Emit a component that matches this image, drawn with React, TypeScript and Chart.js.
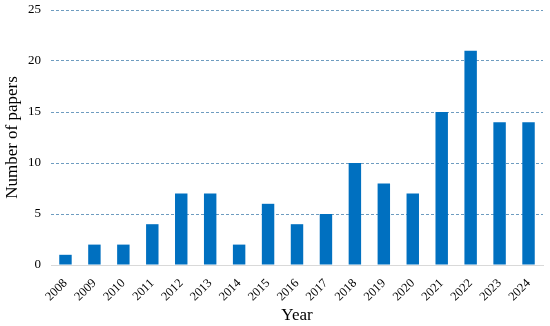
import React, { useEffect, useRef } from "react";
import { Chart, registerables } from "chart.js";

Chart.register(...registerables);

const years = ["2008","2009","2010","2011","2012","2013","2014","2015","2016","2017","2018","2019","2020","2021","2022","2023","2024"];
const papers = [1, 2, 2, 4, 7, 7, 2, 6, 4, 5, 10, 8, 7, 15, 21, 14, 14];

const FONT = "'Liberation Serif', 'Times New Roman', serif";

export default function App() {
  const ref = useRef<HTMLCanvasElement>(null);
  useEffect(() => {
    if (!ref.current) return;
    const chart = new Chart(ref.current, {
      type: "bar",
      data: {
        labels: years,
        datasets: [
          {
            data: papers,
            backgroundColor: "#0070C0",
            categoryPercentage: 1,
            barPercentage: 0.43,
          },
        ],
      },
      options: {
        animation: false,
        responsive: false,
        maintainAspectRatio: false,
        layout: { padding: { top: 10, right: 7, left: 0, bottom: 0 } },
        plugins: { legend: { display: false }, tooltip: { enabled: false } },
        scales: {
          x: {
            offset: true,
            grid: { display: false },
            border: { display: true, color: "#D9D9D9", width: 1 },
            afterFit: (scale: any) => {
              scale.height = 61;
              scale.paddingLeft = 0;
              scale.paddingRight = 0;
            },
            ticks: {
              minRotation: 45,
              maxRotation: 45,
              color: "#000",
              font: { family: FONT, size: 12.5 },
              padding: 3,
            },
            title: {
              display: true,
              text: "Year",
              color: "#000",
              font: { family: FONT, size: 17 },
              padding: { top: 0, bottom: 0 },
            },
          },
          y: {
            min: 0,
            max: 25,
            afterFit: (scale: any) => {
              scale.width = 51;
              scale.paddingTop = 0;
              scale.paddingBottom = 0;
            },
            ticks: {
              stepSize: 5,
              color: "#000",
              font: { family: FONT, size: 13 },
              padding: 10,
            },
            border: { display: false, dash: [3, 2] },
            grid: {
              drawTicks: false,
              color: (ctx: any) => (ctx.tick && ctx.tick.value === 0 ? "rgba(0,0,0,0)" : "#6E9CC0"),
              lineWidth: 1,
            },
            title: {
              display: true,
              text: "Number of papers",
              color: "#000",
              font: { family: FONT, size: 17 },
              padding: { top: 2, bottom: 0 },
            },
          },
        },
      },
    });
    return () => chart.destroy();
  }, []);
  return (
    <div style={{ position: "fixed", left: 0, top: 0, width: 550, height: 326, background: "#fff" }}>
      <canvas ref={ref} width={550} height={326} style={{ width: 550, height: 326 }} />
    </div>
  );
}
